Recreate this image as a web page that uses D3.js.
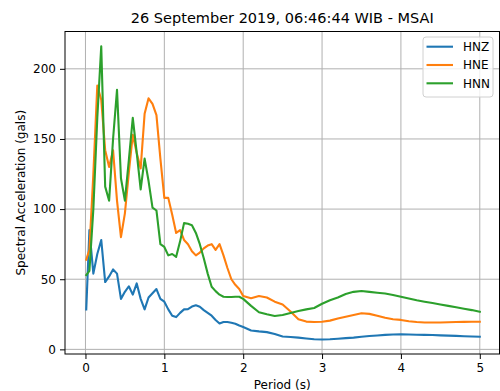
<!DOCTYPE html>
<html><head><meta charset="utf-8">
<script src="https://cdn.jsdelivr.net/npm/d3@7"></script>
<style>body{margin:0;background:#fff}svg{display:block}text{font-family:"DejaVu Sans",sans-serif;fill:#000}</style>
</head><body><svg id="c" width="500" height="391"></svg>
<script>
const periods = [0.01,0.05,0.1,0.15,0.2,0.25,0.3,0.35,0.4,0.45,0.5,0.55,0.6,0.65,0.7,0.75,0.8,0.85,0.9,0.95,
  1.0,1.05,1.1,1.15,1.2,1.25,1.3,1.35,1.4,1.45,1.5,1.55,1.6,1.65,1.7,1.75,1.8,1.85,1.9,1.95,
  2.0,2.1,2.2,2.3,2.4,2.5,2.6,2.7,2.8,2.9,3.0,3.1,3.2,3.3,3.4,3.5,3.6,3.7,3.8,3.9,
  4.0,4.1,4.2,4.3,4.4,4.5,4.6,4.7,4.8,4.9,5.0];
const hnz = [28.5,85,54,68,78,48,52,57,54,36,41,45,39,47,36,28.5,37,40,43,36,
  34,28.5,24,23,26,28.5,28.7,30.5,31.5,30.4,28,26,24,21,18.5,19.5,19.5,19,18.3,17,
  16,13.5,12.8,12.3,11,9.2,8.8,8.4,7.8,7.2,7.0,7.2,7.6,8.0,8.4,9.0,9.5,9.9,10.3,10.6,
  10.7,10.6,10.4,10.3,10.2,10.0,9.8,9.6,9.4,9.2,9.0];
const hne = [64,71,125,188,178,142,130,142,106,80,97,126,153,140,129,168,179,175,167,136,
  108,108,96,83,85,78,75,70,67,69,72,74,75,71,75,67,58,50,46,43,
  38,36.5,38,37,34,32,27,21.5,19.8,19.5,19.7,20.5,22,23.3,24.5,25.7,25.3,24,22.5,21.5,
  21,20,19.5,19.2,19.2,19.2,19.3,19.5,19.6,19.7,19.7];
const hnn = [53,56,100,165,216,116,106,150,185,122,106,135,165,140,114,136,120,101,99,75,
  73,67,68,66,77,90,89.5,88.5,83,75,65,54,44.6,41.5,39,37.5,37.3,37.3,37.5,37.5,
  36,31,26.5,25,23.8,24.5,26,27.3,28.5,29.5,32.5,35,37,39.5,41,41.6,41,40.4,39.8,38.8,
  37.5,36.3,35,34,33,32,31,30,29,28,26.8];
const seriesNames = ["HNZ","HNE","HNN"];
const seriesColors = ["#1f77b4","#ff7f0e","#2ca02c"];
const xTicks = [0,1,2,3,4,5];
const yTicks = [0,50,100,150,200];
const titleText = "26 September 2019, 06:46:44 WIB - MSAI";
const xLabel = "Period (s)";
const yLabel = "Spectral Acceleration (gals)";

const svg = d3.select("#c");
const L = 65, R = 499.5, T = 31.5, B = 354;
const x = d3.scaleLinear().domain([-0.2595, 5.25]).range([L, R]);
const y = d3.scaleLinear().domain([-3.3, 226.6]).range([B, T]);

const g = svg.append("g");
g.selectAll(".gx").data(xTicks).enter().append("line")
  .attr("x1", d => x(d)).attr("x2", d => x(d)).attr("y1", T).attr("y2", B)
  .attr("stroke", "#b0b0b0").attr("stroke-width", 1);
g.selectAll(".gy").data(yTicks).enter().append("line")
  .attr("y1", d => y(d)).attr("y2", d => y(d)).attr("x1", L).attr("x2", R)
  .attr("stroke", "#b0b0b0").attr("stroke-width", 1);

const all = [hnz, hne, hnn];
const line = d3.line().x((d, i) => x(periods[i])).y(d => y(d));
all.forEach((s, k) => {
  svg.append("path").datum(s).attr("d", line).attr("fill", "none")
    .attr("stroke", seriesColors[k]).attr("stroke-width", 2.1)
    .attr("stroke-linejoin", "round").attr("stroke-linecap", "square");
});

const xa = svg.append("g").attr("transform", `translate(0,${B})`)
  .call(d3.axisBottom(x).tickValues(xTicks).tickFormat(d3.format("d")).tickSize(5).tickPadding(4).tickSizeOuter(0));
const ya = svg.append("g").attr("transform", `translate(${L},0)`)
  .call(d3.axisLeft(y).tickValues(yTicks).tickFormat(d3.format("d")).tickSize(5).tickPadding(4).tickSizeOuter(0));
[xa, ya].forEach(a => {
  a.select(".domain").remove();
  a.selectAll("line").attr("stroke", "#000").attr("stroke-width", 1);
  a.selectAll("text").attr("font-size", 12).attr("font-family", "DejaVu Sans").attr("fill", "#000");
});
svg.append("rect").attr("x", L).attr("y", T).attr("width", R - L).attr("height", B - T)
  .attr("fill", "none").attr("stroke", "#000").attr("stroke-width", 1);

svg.append("text").attr("x", (L + R) / 2).attr("y", 23).attr("text-anchor", "middle")
  .attr("font-size", 14.5).text(titleText);
svg.append("text").attr("x", (L + R) / 2).attr("y", 389).attr("text-anchor", "middle")
  .attr("font-size", 12).text(xLabel);
svg.append("text").attr("transform", `translate(25,${(T + B) / 2}) rotate(-90)`).attr("text-anchor", "middle")
  .attr("font-size", 12).text(yLabel);

const lg = svg.append("g");
lg.append("rect").attr("x", 423).attr("y", 37).attr("width", 70).attr("height", 60).attr("rx", 3)
  .attr("fill", "#fff").attr("fill-opacity", 0.8).attr("stroke", "#d0d0d0").attr("stroke-width", 1);
seriesNames.forEach((n, k) => {
  const yy = 46.7 + k * 18.3;
  lg.append("line").attr("x1", 426.5).attr("x2", 453).attr("y1", yy).attr("y2", yy)
    .attr("stroke", seriesColors[k]).attr("stroke-width", 2.1);
  lg.append("text").attr("x", 463).attr("y", yy + 4.3).attr("font-size", 12).text(n);
});
</script></body></html>
